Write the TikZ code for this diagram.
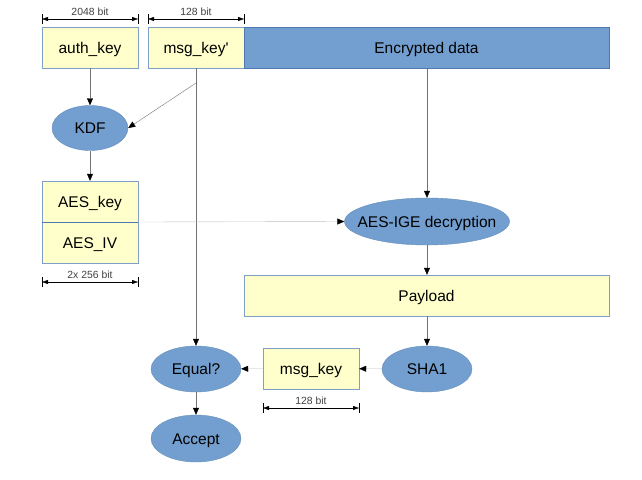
\documentclass[tikz,border=0pt]{standalone}
\usepackage{fontspec}
\setmainfont{Liberation Sans}[Ligatures=TeXOff]
\usetikzlibrary{shapes.geometric,arrows.meta}
\definecolor{paleyellow}{HTML}{FFFFCC}
\definecolor{boxedge}{HTML}{7F9FC8}
\definecolor{blockblue}{HTML}{729FCF}
\definecolor{darkedge}{HTML}{4F78B0}

\begin{document}
\begin{tikzpicture}[x=1pt,y=-1pt,
    every node/.style={font=\fontsize{15.5}{18}\selectfont},
    field/.style={draw=boxedge,fill=paleyellow,minimum width=96pt,minimum height=41pt,inner sep=0pt,text height=11pt,text depth=0pt},
    step oval/.style={ellipse,draw=blockblue!90!black,fill=blockblue,inner sep=0pt,text height=11pt,text depth=0pt},
    size/.style={font=\fontsize{10.4}{12}\selectfont,text=black!75},
    link/.style={draw=black!55,-{Triangle[length=7pt,width=6pt,black]}},
    measure/.style={{Triangle[length=6pt,width=4pt]}-{Triangle[length=6pt,width=4pt]},thin}]
    \useasboundingbox (0,0) rectangle (642,479);
    % top row of fields
    \node[field] (authkey) at (90,47.5) {auth\_key};
    \node[field] (msgkeyp) at (196,47.5) {msg\_key'};
    \node[field,draw=darkedge,fill=blockblue,minimum width=365pt] (encdata) at (426.5,47.5) {Encrypted data};
    % key derivation
    \node[step oval,minimum width=76pt,minimum height=45pt] (kdf) at (90,128) {KDF};
    \node[field] (aeskey) at (90,201.5) {AES\_key};
    \node[field] (aesiv) at (90,242.5) {AES\_IV};
    \draw[darkedge,thick] (aeskey.south west) -- (aeskey.south east); % divider between key and iv
    % decryption and checking
    \node[step oval,inner xsep=-11pt,minimum width=160pt,minimum height=47pt] (aesige) at (427,221.5) {AES-IGE decryption};
    \node[field,minimum width=365pt] (payload) at (426.5,295.5) {Payload};
    \node[step oval,minimum width=90pt,minimum height=46pt] (sha) at (427,369) {SHA1};
    \node[field] (msgkey) at (311,368.5) {msg\_key};
    \node[step oval,minimum width=90pt,minimum height=46pt] (equal) at (196,369) {Equal?};
    \node[step oval,minimum width=90pt,minimum height=47pt] (accept) at (196,438.5) {Accept};
    % connectors
    \coordinate (branch) at (196,83);
    \coordinate (ivtap) at (143,222);
    \draw[link] (authkey) -- (kdf);
    \draw[link,draw=black!55,thin] (branch) -- (kdf.east);
    \draw[link] (msgkeyp.south) -- (equal.north);
    \draw[link] (kdf) -- (aeskey);
    \draw[link,draw=black!25] (ivtap) -- (aesige.west);
    \draw[link] (encdata.south -| aesige.north) -- (aesige.north);
    \draw[link] (aesige) -- (payload.north -| aesige.south);
    \draw[link] (payload.south -| sha.north) -- (sha.north);
    \draw[link,draw=black!25] (sha) -- (msgkey);
    \draw[link,draw=black!25] (msgkey) -- (equal);
    \draw[link] (equal) -- (accept);
    % bit sizes
    \foreach \name/\xa/\xb/\ya/\lbl in {wauth/42/138/19/2048 bit, wmsgp/148/244/19/128 bit, wiv/42/138/282/2x 256 bit, wmsg/263/359/408/128 bit}{
        \draw[thin] (\xa,\ya-5) -- (\xa,\ya+5) (\xb,\ya-5) -- (\xb,\ya+5);
        \draw[measure] (\xa,\ya) -- node[size,above=0pt] (\name) {\lbl} (\xb,\ya);
    }
\end{tikzpicture}
\end{document}
